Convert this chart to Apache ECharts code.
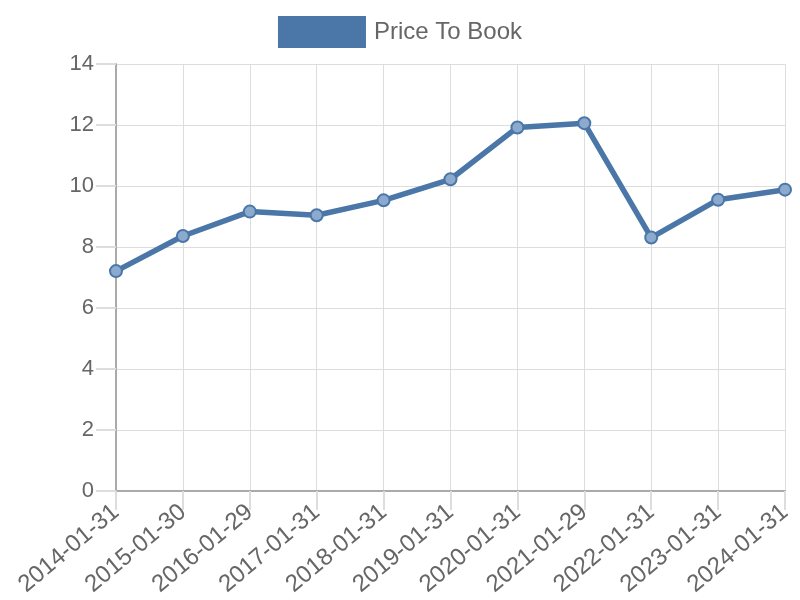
<!DOCTYPE html>
<html><head><meta charset="utf-8">
<script src="https://cdn.jsdelivr.net/npm/echarts@6/dist/echarts.min.js"></script>
<style>html,body{margin:0;padding:0;background:#fff}#c{width:800px;height:600px}</style>
</head><body><div id="c"></div>
<script>
const categories = ["2014-01-31","2015-01-30","2016-01-29","2017-01-31","2018-01-31","2019-01-31","2020-01-31","2021-01-29","2022-01-31","2023-01-31","2024-01-31"];
const priceToBook = [7.21, 8.36, 9.16, 9.04, 9.53, 10.22, 11.92, 12.06, 8.31, 9.55, 9.88];
const seriesName = "Price To Book";

const chart = echarts.init(document.getElementById('c'), null, {renderer:'canvas'});
chart.setOption({
  animation:false,
  textStyle:{fontFamily:'Liberation Sans, Arial, sans-serif'},
  legend:{
    top:16, left:'center', itemWidth:86, itemHeight:30, itemGap:10,
    icon:'rect', padding:0,
    textStyle:{fontSize:24, color:'#666', fontFamily:'Liberation Sans, Arial, sans-serif', padding:[0,0,0,4]},
    data:[{name:seriesName, itemStyle:{color:'#4a77a8'}}]
  },
  grid:{left:116, right:15, top:64, bottom:109, containLabel:false},
  xAxis:{
    type:'category', data:categories, boundaryGap:false,
    axisLine:{lineStyle:{color:'#aaa', width:2}},
    axisTick:{show:true, length:19, lineStyle:{color:'#ddd', width:2}},
    splitLine:{show:true, lineStyle:{color:'#ddd', width:1}},
    axisLabel:{rotate:40, fontSize:24, color:'#666', margin:18, interval:0}
  },
  yAxis:{
    type:'value', min:0, max:14, interval:2,
    axisLine:{show:true, lineStyle:{color:'#aaa', width:2}},
    axisTick:{show:true, length:20, lineStyle:{color:'#ddd', width:2}},
    splitLine:{show:true, lineStyle:{color:'#ddd', width:1}},
    axisLabel:{fontSize:22, color:'#666', margin:22}
  },
  series:[{
    name:seriesName, type:'line', data:priceToBook,
    lineStyle:{color:'#4a77a8', width:5.5},
    symbol:'circle', symbolSize:12,
    itemStyle:{color:'rgba(140,170,205,1)', borderColor:'#4a77a8', borderWidth:2},
    z:3
  }]
});
</script></body></html>
